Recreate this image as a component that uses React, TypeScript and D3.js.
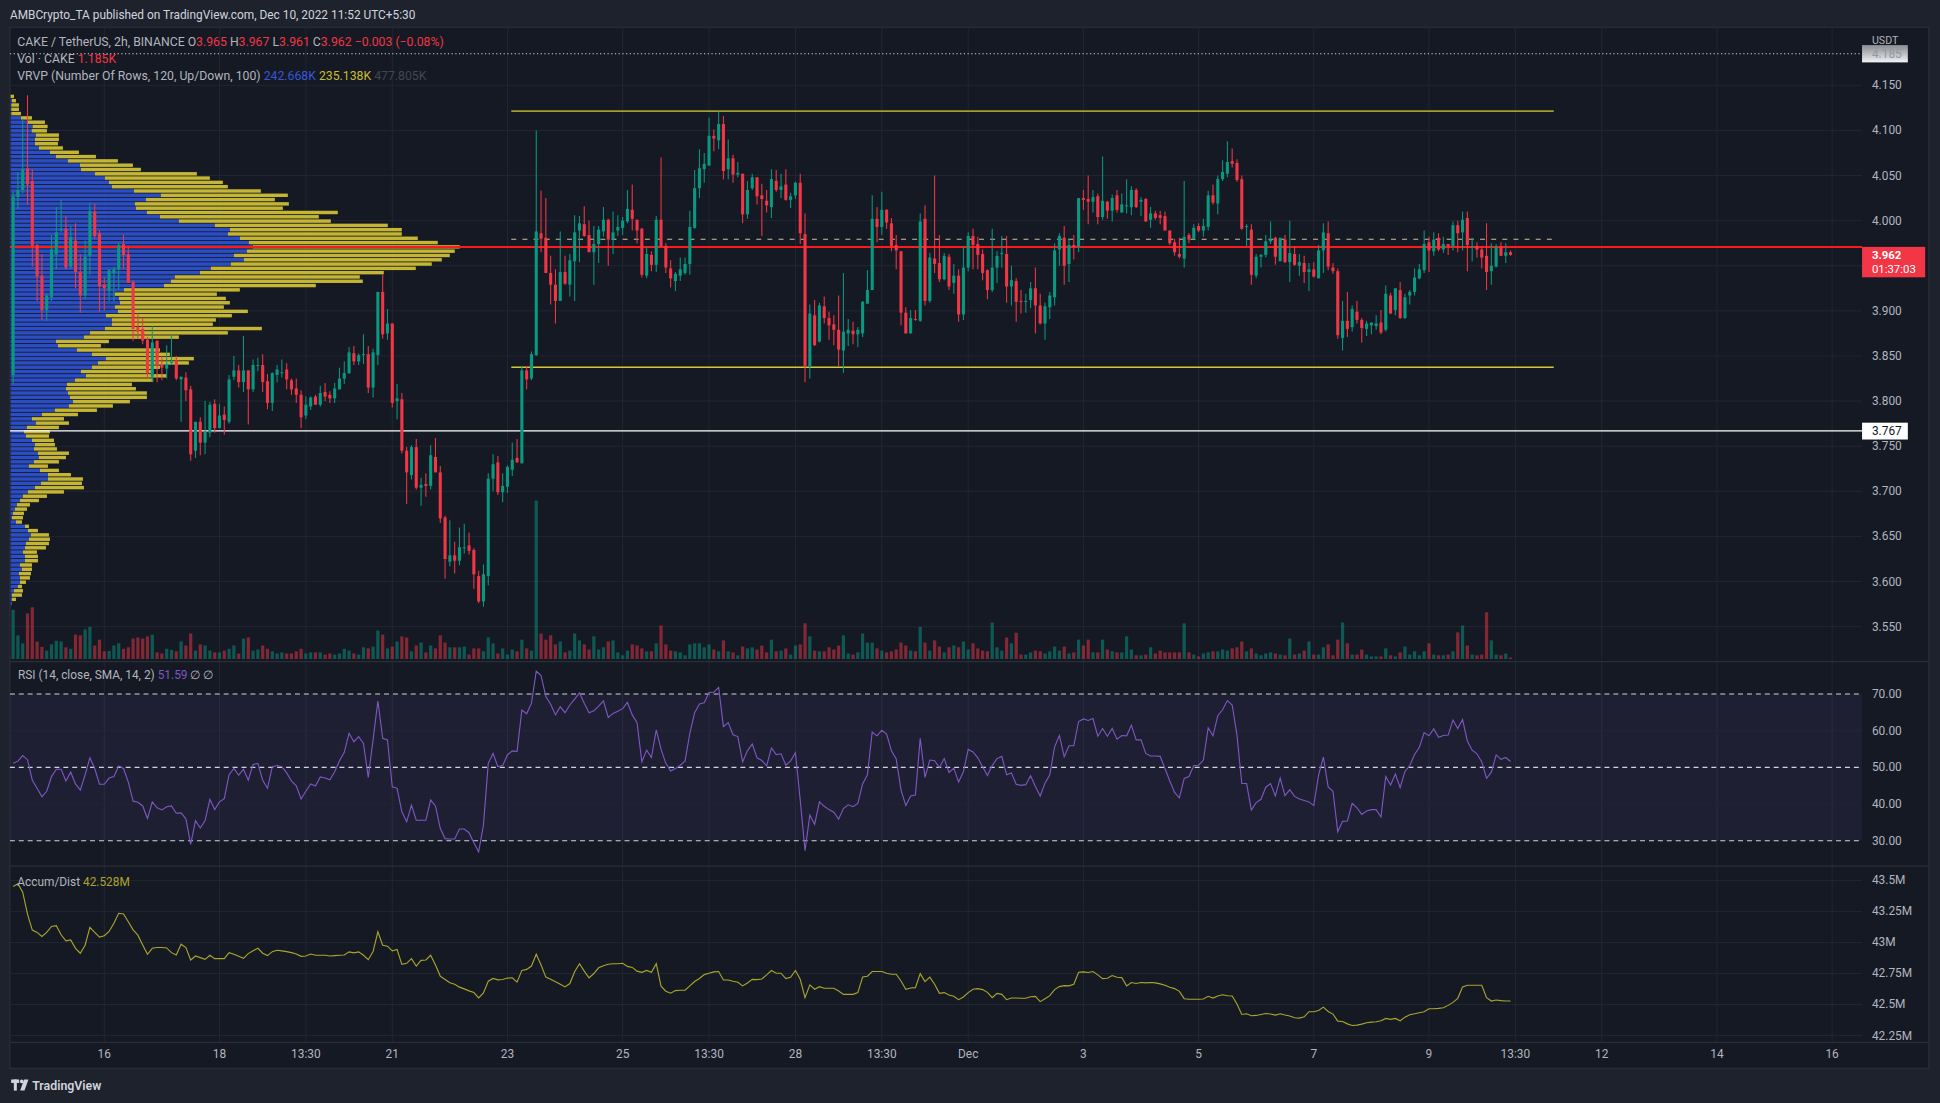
import React from 'react';
import * as d3 from 'd3';

// 2h candles, bar 0 = Nov 16 01:30 (UTC+5:30)
const FIRST_BAR = -19;

const opens = [
  3.829,4.026,4.034,4.058,4.044,3.973,3.939,3.901,3.915,3.963,3.990,3.991,3.949,3.978,3.943,3.917,3.961,4.010,3.986,
  3.929,3.922,3.942,3.946,3.974,3.963,3.932,3.882,3.880,3.868,3.827,3.867,3.840,3.836,3.842,3.845,3.824,3.826,3.813,3.745,3.777,3.754,3.765,3.797,3.770,3.785,3.777,3.827,3.834,3.821,3.834,3.813,3.839,3.840,3.822,3.798,3.829,3.831,3.835,3.823,3.814,3.807,3.784,
  3.794,3.805,3.796,3.810,3.807,3.803,3.813,3.825,3.831,3.853,3.844,3.851,3.852,3.815,3.851,3.921,3.875,3.886,3.800,3.802,3.745,3.718,3.749,3.704,3.708,3.706,3.738,3.721,3.671,3.622,3.629,3.623,3.637,3.640,3.635,3.606,3.578,3.606,3.714,3.732,3.699,3.705,3.724,3.737,3.731,3.834,3.825,3.851,3.986,3.981,3.942,3.929,3.911,3.943,3.929,3.955,3.989,3.996,3.984,3.965,3.974,3.988,4.001,3.979,
  3.989,3.992,3.999,4.012,4.001,3.991,3.939,3.962,3.951,4.001,3.972,3.947,3.933,3.939,3.942,3.952,3.992,4.036,4.057,4.061,4.094,4.089,4.107,4.057,4.069,4.051,4.052,4.007,4.036,4.048,4.028,4.022,4.015,4.044,4.034,4.040,4.023,4.028,4.042,3.985,3.838,3.895,3.866,3.905,3.892,3.885,3.879,3.856,3.875,3.878,3.874,3.875,3.908,3.923,4.002,3.993,4.012,3.997,3.973,3.966,3.898,3.875,3.891,
  3.889,4.002,3.911,3.958,3.953,3.935,3.960,3.931,3.939,3.896,3.948,3.983,3.974,3.963,3.945,3.923,3.948,3.963,3.963,3.927,3.933,3.911,3.910,3.912,3.925,3.906,3.886,3.904,3.915,3.968,3.981,3.952,3.973,3.971,4.025,4.024,4.021,4.027,4.004,4.021,4.011,4.028,4.009,4.016,4.015,4.034,4.021,4.024,4.001,4.008,4.006,4.005,3.989,3.976,3.963,3.958,3.984,3.980,3.994,3.989,3.993,4.028,4.019,4.046,
  4.052,4.066,4.064,4.046,3.993,3.990,3.939,3.960,3.962,3.977,3.981,3.955,3.979,3.954,3.963,3.950,3.953,3.943,3.946,3.936,3.967,3.986,3.948,3.944,3.870,3.889,3.882,3.899,3.890,3.880,3.884,3.883,3.887,3.879,3.917,3.901,3.923,3.892,3.917,3.921,3.936,3.945,3.976,3.966,3.981,3.968,3.974,3.972,3.995,3.987,4.003,3.971,3.972,3.968,3.961,3.944,3.949,3.971,3.961,3.965,
];
const highs = [
  4.032,4.054,4.113,4.139,4.057,3.974,3.963,3.919,3.984,4.015,4.023,4.005,3.994,3.997,3.963,3.978,4.020,4.019,3.989,
  3.937,3.946,3.949,3.976,3.984,3.972,3.934,3.898,3.892,3.871,3.883,3.867,3.850,3.862,3.874,3.850,3.827,3.832,3.817,3.777,3.782,3.800,3.799,3.802,3.797,3.794,3.829,3.850,3.840,3.872,3.834,3.846,3.848,3.852,3.830,3.832,3.840,3.846,3.842,3.825,3.825,3.812,3.805,
  3.805,3.807,3.817,3.820,3.811,3.820,3.837,3.844,3.860,3.861,3.853,3.874,3.861,3.858,3.921,3.940,3.902,3.886,3.819,3.809,3.749,3.751,3.758,3.715,3.720,3.751,3.759,3.728,3.673,3.668,3.644,3.660,3.664,3.654,3.637,3.612,3.619,3.720,3.741,3.739,3.720,3.729,3.754,3.758,3.839,3.839,3.855,4.100,4.033,4.025,3.961,3.946,3.988,3.961,3.963,4.006,4.005,4.016,4.000,3.994,3.994,4.015,4.002,4.010,
  4.006,4.004,4.034,4.040,4.001,3.992,3.971,3.966,4.005,4.070,3.975,3.956,3.943,3.959,3.959,4.011,4.056,4.079,4.075,4.114,4.101,4.121,4.116,4.090,4.073,4.065,4.052,4.044,4.052,4.048,4.041,4.034,4.057,4.056,4.052,4.057,4.031,4.043,4.052,4.008,3.907,3.912,3.909,3.916,3.899,3.895,3.917,3.942,3.891,3.888,3.882,3.911,3.945,4.028,4.015,4.032,4.013,4.003,3.984,3.966,3.904,3.901,3.901,
  4.008,4.017,3.964,4.050,3.984,3.964,3.963,3.952,3.946,3.971,3.987,3.991,3.982,3.968,3.946,3.991,3.966,3.983,3.983,3.950,3.936,3.923,3.919,3.932,3.948,3.919,3.909,3.921,3.975,3.986,3.994,3.980,3.984,4.025,4.034,4.050,4.034,4.030,4.071,4.022,4.029,4.034,4.030,4.046,4.038,4.036,4.026,4.025,4.015,4.011,4.011,4.010,3.989,3.980,3.981,4.044,3.986,3.996,3.997,4.002,4.033,4.040,4.050,4.067,
  4.088,4.080,4.068,4.050,3.996,3.996,3.963,3.963,3.984,3.999,3.982,3.981,3.984,4.000,3.972,3.963,3.961,3.953,3.954,3.973,3.997,3.999,3.953,3.947,3.911,3.921,3.906,3.911,3.892,3.889,3.887,3.895,3.901,3.928,3.920,3.925,3.932,3.919,3.923,3.947,3.952,3.989,3.982,3.987,3.986,3.982,3.974,3.999,4.000,4.010,4.010,3.981,3.976,3.972,3.997,3.975,3.974,3.976,3.975,3.967,
];
const lows = [
  3.819,4.013,4.030,4.018,3.949,3.911,3.890,3.889,3.911,3.946,3.987,3.946,3.946,3.925,3.898,3.913,3.940,3.980,3.899,
  3.901,3.911,3.911,3.923,3.946,3.931,3.867,3.870,3.863,3.825,3.821,3.821,3.823,3.825,3.840,3.823,3.777,3.800,3.734,3.737,3.740,3.741,3.760,3.765,3.770,3.763,3.775,3.823,3.815,3.810,3.774,3.810,3.833,3.810,3.791,3.789,3.821,3.826,3.813,3.807,3.798,3.770,3.780,
  3.790,3.796,3.794,3.800,3.798,3.798,3.813,3.819,3.830,3.840,3.840,3.841,3.809,3.804,3.840,3.869,3.868,3.793,3.780,3.742,3.686,3.713,3.702,3.684,3.694,3.702,3.721,3.665,3.603,3.617,3.609,3.618,3.631,3.630,3.592,3.576,3.572,3.596,3.700,3.696,3.688,3.698,3.717,3.732,3.731,3.813,3.823,3.850,3.965,3.942,3.907,3.886,3.911,3.929,3.916,3.911,3.954,3.982,3.965,3.929,3.953,3.982,3.950,3.963,
  3.983,3.984,3.997,3.989,3.975,3.937,3.936,3.944,3.943,3.971,3.942,3.926,3.922,3.933,3.940,3.940,3.991,4.025,4.042,4.061,4.077,4.079,4.046,4.046,4.042,4.048,3.997,4.002,4.034,4.018,3.983,4.009,4.003,4.032,4.025,4.022,4.014,4.024,3.974,3.821,3.825,3.861,3.865,3.886,3.868,3.862,3.839,3.831,3.861,3.863,3.860,3.871,3.908,3.923,3.976,3.984,3.991,3.966,3.946,3.884,3.875,3.875,3.889,
  3.888,3.906,3.909,3.942,3.932,3.934,3.923,3.919,3.888,3.890,3.944,3.946,3.946,3.934,3.913,3.921,3.931,3.948,3.909,3.906,3.888,3.897,3.898,3.903,3.875,3.885,3.868,3.891,3.906,3.950,3.929,3.932,3.957,3.965,4.012,3.996,4.009,3.996,4.001,4.002,3.999,4.009,4.009,4.008,4.006,4.014,4.005,3.999,3.992,4.001,3.996,3.989,3.973,3.961,3.958,3.948,3.975,3.979,3.987,3.982,3.989,4.018,4.007,4.044,
  4.048,4.059,4.043,3.990,3.972,3.929,3.936,3.948,3.959,3.974,3.951,3.955,3.953,3.932,3.950,3.939,3.931,3.922,3.937,3.936,3.942,3.945,3.941,3.869,3.856,3.871,3.877,3.886,3.865,3.872,3.874,3.879,3.874,3.877,3.897,3.895,3.891,3.891,3.907,3.917,3.935,3.942,3.943,3.961,3.966,3.964,3.962,3.967,3.965,3.967,3.944,3.955,3.959,3.947,3.923,3.929,3.948,3.961,3.953,3.961,
];
const closes = [
  4.027,4.034,4.057,4.040,3.972,3.938,3.901,3.917,3.968,3.987,3.991,3.948,3.982,3.943,3.917,3.960,4.011,3.983,3.927,
  3.925,3.945,3.946,3.973,3.962,3.931,3.880,3.877,3.867,3.831,3.865,3.840,3.837,3.841,3.844,3.825,3.827,3.812,3.741,3.777,3.754,3.766,3.796,3.770,3.784,3.779,3.824,3.834,3.821,3.834,3.813,3.840,3.840,3.821,3.798,3.831,3.835,3.832,3.824,3.813,3.807,3.782,3.796,
  3.804,3.796,3.809,3.805,3.803,3.814,3.825,3.831,3.854,3.844,3.851,3.852,3.815,3.854,3.921,3.874,3.886,3.798,3.803,3.745,3.721,3.749,3.704,3.707,3.706,3.740,3.721,3.670,3.625,3.629,3.623,3.638,3.638,3.634,3.608,3.578,3.608,3.714,3.730,3.699,3.706,3.727,3.735,3.732,3.834,3.824,3.852,3.988,3.980,3.942,3.929,3.911,3.943,3.930,3.956,3.987,3.997,3.983,3.965,3.974,3.990,4.001,3.979,3.987,
  3.993,4.000,4.013,4.002,3.989,3.940,3.963,3.951,4.001,3.971,3.948,3.936,3.941,3.946,3.952,3.993,4.036,4.058,4.063,4.094,4.091,4.107,4.055,4.069,4.051,4.053,4.007,4.034,4.048,4.027,4.024,4.017,4.046,4.034,4.038,4.023,4.027,4.042,3.986,3.839,3.897,3.862,3.906,3.892,3.884,3.879,3.857,3.877,3.879,3.874,3.879,3.910,3.923,4.002,3.993,4.012,3.998,3.972,3.967,3.898,3.875,3.892,3.890,
  3.999,3.911,3.959,3.952,3.935,3.961,3.927,3.939,3.896,3.948,3.983,3.973,3.962,3.942,3.923,3.948,3.961,3.964,3.927,3.934,3.910,3.910,3.911,3.925,3.906,3.886,3.905,3.917,3.967,3.983,3.950,3.973,3.971,4.025,4.023,4.021,4.026,4.004,4.022,4.011,4.025,4.012,4.018,4.017,4.034,4.015,4.023,3.999,4.008,4.003,4.003,3.989,3.975,3.965,3.960,3.982,3.979,3.992,3.989,3.994,4.028,4.020,4.046,4.054,
  4.065,4.063,4.045,3.991,3.994,3.940,3.960,3.962,3.977,3.979,3.960,3.981,3.954,3.964,3.951,3.954,3.943,3.946,3.938,3.967,3.987,3.949,3.944,3.873,3.889,3.880,3.902,3.890,3.881,3.886,3.887,3.886,3.876,3.919,3.897,3.925,3.892,3.915,3.921,3.937,3.946,3.974,3.967,3.979,3.968,3.974,3.972,3.995,3.986,4.001,3.973,3.971,3.968,3.959,3.943,3.950,3.971,3.961,3.965,3.962,
];
const volumes = [
  135,65,43,125,142,48,33,23,40,50,48,32,28,67,65,81,88,37,53,
  21,22,37,43,28,32,56,59,56,62,67,18,15,28,25,21,48,37,70,23,40,37,23,18,18,23,28,37,15,56,59,23,26,37,28,21,15,18,15,15,21,28,15,
  18,18,18,12,15,12,15,28,23,15,12,32,29,34,78,67,29,34,48,62,59,21,37,45,18,37,29,65,45,32,32,32,34,12,29,29,21,59,43,15,29,12,26,21,53,29,23,435,70,53,65,40,48,18,23,70,51,40,26,62,26,32,48,51,
  18,10,23,40,37,29,21,21,43,92,40,23,21,18,10,40,43,43,32,40,26,21,51,21,18,10,34,29,32,26,37,18,53,21,23,29,12,37,40,98,62,23,21,21,32,26,37,65,15,12,18,70,45,45,29,23,18,21,26,45,37,23,21,
  88,45,23,51,34,18,32,37,32,48,26,43,29,23,21,100,32,23,59,43,72,12,12,18,23,21,15,21,34,23,34,15,18,53,37,53,18,18,53,26,21,18,18,62,26,10,10,12,32,15,23,18,18,18,18,98,18,12,7,15,18,21,21,26,
  23,29,32,48,21,29,15,10,15,18,15,12,10,56,12,15,23,48,12,12,32,40,10,53,100,43,12,12,26,12,7,7,7,29,10,7,18,34,12,21,10,21,43,12,10,10,12,21,73,92,37,12,10,12,128,51,12,10,15,4,
];
const rsiValues = [
  51.1,51.7,53.2,52.1,46.5,44.3,42.0,43.5,47.5,49.5,49.5,46.3,48.7,45.5,43.8,48.0,52.6,49.7,45.4,
  45.4,47.1,47.5,50.4,49.7,46.0,40.8,40.5,39.5,36.1,40.6,39.0,38.4,39.3,39.5,37.5,37.6,36.0,29.0,35.5,33.5,35.5,41.3,38.5,40.6,41.5,48.0,49.7,47.9,49.5,46.5,50.8,51.1,46.5,44.3,50.2,50.5,50.2,48.5,46.3,45.0,41.4,43.5,
  45.5,44.9,47.4,47.1,46.6,48.8,51.8,54.1,59.3,57.0,58.4,56.5,47.3,57.5,68.1,57.9,57.5,44.7,44.3,37.9,35.2,39.7,35.6,35.6,35.6,41.1,39.5,33.4,30.6,30.5,30.5,33.2,33.2,32.2,29.5,27.0,34.3,51.1,53.8,50.2,50.5,53.4,54.5,54.3,65.6,64.6,67.5,76.2,75.0,69.3,67.2,64.3,66.5,64.9,67.0,68.6,70.3,67.5,64.9,65.4,66.7,68.1,63.6,64.7,
  65.3,66.0,67.7,64.3,62.2,51.5,54.7,52.7,60.2,54.9,51.1,49.0,49.7,50.6,51.7,59.3,64.9,67.3,
  67.6,70.4,70.5,71.8,61.1,62.2,58.9,58.4,51.5,54.5,56.4,52.6,51.9,50.4,55.3,53.5,53.7,50.6,51.8,54.0,41.1,27.3,37.0,34.5,40.6,39.4,38.5,37.8,35.9,38.8,39.8,39.3,40.2,45.5,48.0,59.6,58.6,60.1,59.1,54.5,52.3,43.8,39.6,42.2,42.5,
  57.9,47.3,52.0,51.8,50.0,52.4,48.6,49.8,46.0,48.8,54.9,54.2,52.6,50.2,47.8,50.5,52.4,53.0,48.0,48.5,45.4,45.1,45.3,47.7,44.8,42.2,45.7,48.0,55.6,58.7,52.9,55.9,55.9,62.5,63.2,62.8,63.3,58.5,60.6,58.5,60.6,57.7,58.7,58.6,61.5,57.5,57.5,53.8,53.1,53.1,53.0,49.7,46.3,43.2,41.7,47.0,47.5,50.5,50.6,52.0,60.8,58.6,64.1,65.7,
  68.2,67.0,58.8,45.6,45.6,38.4,40.4,41.3,44.6,45.6,42.2,47.1,42.3,43.9,42.1,41.4,41.0,40.6,39.6,47.9,52.8,44.7,43.5,32.5,35.3,35.4,40.2,39.0,37.2,38.1,38.5,38.5,36.5,47.5,45.2,48.2,44.5,48.9,50.5,53.5,55.5,59.5,58.6,60.5,58.2,58.7,58.8,62.9,60.6,63.0,57.2,54.7,53.7,51.5,47.0,48.7,53.4,52.2,52.7,51.6,
];
// Accumulation / Distribution, millions
const adValues = [
  43.451,43.473,43.405,43.229,43.100,43.081,43.048,43.081,43.129,43.135,43.062,43.013,43.021,42.953,42.913,42.978,43.121,43.081,43.043,
  43.054,43.089,43.154,43.235,43.229,43.167,43.102,43.059,42.980,42.905,42.953,42.959,42.959,42.956,42.918,42.899,42.986,42.959,42.859,42.891,42.878,42.864,42.897,42.870,42.870,42.870,42.918,42.905,42.888,42.872,42.910,42.934,42.953,42.913,42.894,42.926,42.937,42.932,42.926,42.918,42.907,42.888,42.891,
  42.907,42.897,42.897,42.897,42.891,42.894,42.897,42.899,42.924,42.916,42.924,42.897,42.861,42.926,43.086,42.978,42.970,42.932,42.943,42.824,42.832,42.870,42.810,42.856,42.859,42.897,42.818,42.729,42.702,42.675,42.664,42.640,42.626,42.610,42.596,42.553,42.593,42.688,42.710,42.699,42.702,42.713,42.715,42.680,42.775,42.783,42.810,42.905,42.818,42.721,42.704,42.683,42.664,42.642,42.669,42.764,42.829,42.769,42.715,42.750,42.796,42.813,42.824,42.829,
  42.829,42.832,42.807,42.799,42.769,42.759,42.775,42.759,42.829,42.648,42.607,42.591,42.612,42.615,42.615,42.650,42.685,42.710,
  42.741,42.752,42.763,42.766,42.698,42.698,42.687,42.679,42.650,42.674,42.703,42.701,42.706,42.739,42.774,42.752,42.752,42.709,42.720,42.774,42.703,42.555,42.658,42.623,42.644,42.631,42.631,42.631,42.609,42.582,42.582,42.582,42.596,42.722,42.728,42.766,42.766,42.766,42.752,42.744,42.744,42.690,42.623,42.633,42.636,
  42.749,42.685,42.720,42.663,42.590,42.596,42.577,42.566,42.539,42.561,42.596,42.623,42.628,42.620,42.598,42.555,42.590,42.582,42.539,42.552,42.552,42.550,42.550,42.563,42.566,42.523,42.547,42.571,42.620,42.644,42.652,42.650,42.663,42.760,42.763,42.758,42.766,42.739,42.709,42.712,42.733,42.720,42.717,42.650,42.677,42.669,42.677,42.674,42.677,42.674,42.666,42.655,42.639,42.628,42.606,42.547,42.542,42.542,42.542,42.544,42.566,42.552,42.569,42.579,
  42.571,42.569,42.504,42.420,42.425,42.409,42.412,42.420,42.428,42.423,42.415,42.425,42.415,42.407,42.393,42.390,42.401,42.442,42.442,42.452,42.479,42.444,42.423,42.366,42.363,42.344,42.331,42.334,42.342,42.353,42.358,42.361,42.369,42.388,42.380,42.388,42.369,42.398,42.417,42.425,42.434,42.442,42.466,42.466,42.469,42.474,42.493,42.517,42.550,42.641,42.655,42.655,42.655,42.655,42.555,42.528,42.536,42.531,42.528,42.528,
];

// Visible range volume profile, rows from top (high) to bottom (low)
const vpHigh = 4.140;
const vpLow = 3.573;
const vpUp = [
  0,4,2,2,2,31,51,66,63,76,73,73,85,118,136,172,208,211,253,283,295,304,370,451,406,373,376,409,448,505,
  613,658,652,688,715,727,709,670,700,661,601,568,493,481,460,340,313,325,328,313,322,286,304,304,283,238,220,136,142,199,
  244,286,262,244,211,226,193,169,166,172,178,187,175,133,94,64,76,49,40,46,64,73,70,82,85,70,55,88,112,112,
  91,73,52,37,28,19,13,7,4,16,43,52,61,55,46,43,37,43,43,28,34,25,28,28,22,10,4,4,4,
];
const vpDown = [
  10,12,23,23,29,33,52,45,46,69,72,69,72,87,120,150,159,180,306,315,342,348,381,381,387,462,441,573,477,456,
  519,516,522,534,567,621,624,648,594,603,615,552,555,576,456,348,306,321,330,327,390,378,312,303,471,414,285,159,129,249,
  234,264,273,204,217,242,235,195,210,237,231,171,132,126,108,96,99,96,78,69,66,60,69,93,81,75,57,57,69,105,
  123,147,108,72,57,39,36,33,33,18,12,30,54,63,69,63,42,39,39,36,30,36,30,18,12,27,30,12,0,
];

const priceTicks = [3.55,3.6,3.65,3.7,3.75,3.8,3.85,3.9,3.95,4.0,4.05,4.1,4.15];
const rsiTicks = [30,40,50,60,70];
const rsiDashed = [30,50,70];
const adTicks = [42.25,42.5,42.75,43,43.25,43.5];
const adTickLabels = ['42.25M','42.5M','42.75M','43M','43.25M','43.5M'];
const timeTicks: [number, string][] = [
  [0,'16'],[24,'18'],[42,'13:30'],[60,'21'],[84,'23'],[108,'25'],[126,'13:30'],[144,'28'],[162,'13:30'],
  [180,'Dec'],[204,'3'],[228,'5'],[252,'7'],[276,'9'],[294,'13:30'],[312,'12'],[336,'14'],[360,'16'],
];

// drawn levels
const rangeHigh = 4.1214;
const rangeLow = 3.8375;
const rangeMid = 3.9794;
const rangeFromBar = 84.8;
const rangeToBar = 302;
const keyLevel = 3.767;
const visibleHigh = 4.185;
const lastPrice = 3.962;

const C = {
  outer: '#1e222d',
  bg: '#151924',
  grid: '#222632',
  border: '#2a2e39',
  text: '#b2b5be',
  up: '#089981',
  down: '#f23645',
  upVol: 'rgba(8,153,129,0.5)',
  downVol: 'rgba(242,54,69,0.5)',
  vpUp: '#2c4ec4',
  vpDown: '#c4b534',
  rsi: '#7e57c2',
  ad: '#aba52a',
};

const FONT = 'Roboto, "Noto Sans", sans-serif';
const L = 8, R = 1505, AX = 1559;
const TOP = 22, MAIN_B = 534.5, RSI_B = 699.6, AD_B = 842, BOTTOM = 863;

export default function App() {
  const n = Math.min(opens.length, highs.length, lows.length, closes.length);
  const x = d3.scaleLinear().domain([0, 360]).range([84.3, 1480.8]);
  const yP = d3.scaleLinear().domain([3.55, 4.15]).range([506.2, 68.9]);
  const yR = d3.scaleLinear().domain([30, 70]).range([679.2, 560.6]);
  const yA = d3.scaleLinear().domain([42.25, 43.5]).range([836.5, 711.2]);
  const volH = d3.scaleLinear().domain([0, d3.max(volumes) as number]).range([0, 127.9]);
  const totals = vpUp.map((u, i) => u + vpDown[i]);
  const vpW = d3.scaleLinear().domain([0, d3.max(totals) as number]).range([0, 363]);
  const rowH = (yP(vpLow) - yP(vpHigh)) / vpUp.length;
  const poc = d3.maxIndex(totals);
  const pocPrice = vpHigh - (poc + 0.5) * (vpHigh - vpLow) / vpUp.length;
  const bar = (i: number) => x(FIRST_BAR + i);
  const volBase = 532.3;

  const rsiLine = d3.line<number>().x((_, i) => bar(i)).y(d => yR(d));
  const adLine = d3.line<number>().x((_, i) => bar(i)).y(d => yA(d));

  // price label box of the last price hides the axis ticks under it
  const lastTop = yP(lastPrice) - 6.5;
  const lastBottom = lastTop + 24.6;
  const shownPriceTicks = priceTicks.filter(p => yP(p) < lastTop - 4 || yP(p) > lastBottom + 4);

  const tx = { fontFamily: FONT, fontSize: 9.6 } as const;

  return (
    <svg width={1940} height={1103} viewBox="0 0 1568 891" preserveAspectRatio="none"
      style={{ position: 'absolute', left: 0, top: 0, display: 'block' }}>
      <defs>
        <clipPath id="mainClip"><rect x={L} y={TOP} width={R - L} height={MAIN_B - TOP} /></clipPath>
        <clipPath id="rsiClip"><rect x={L} y={MAIN_B} width={R - L} height={RSI_B - MAIN_B} /></clipPath>
        <clipPath id="adClip"><rect x={L} y={RSI_B} width={R - L} height={AD_B - RSI_B} /></clipPath>
        <linearGradient id="hiLbl" x1="0" x2="0" y1="0" y2="1">
          <stop offset="0" stopColor="#e8e9ec" stopOpacity={0.55} />
          <stop offset="1" stopColor="#ffffff" stopOpacity={0.95} />
        </linearGradient>
      </defs>
      <rect x={0} y={0} width={1568} height={891} fill={C.outer} />
      <rect x={L} y={TOP} width={AX - L} height={BOTTOM - TOP} fill={C.bg} stroke={C.border} strokeWidth={1} />

      <text x={8} y={12} {...tx} fill="#d1d4dc" dominantBaseline="central">
        AMBCrypto_TA published on TradingView.com, Dec 10, 2022 11:52 UTC+5:30
      </text>

      {/* grid */}
      {timeTicks.map(([b]) => (
        <line key={'vg' + b} x1={x(b)} x2={x(b)} y1={TOP} y2={AD_B} stroke={C.grid} strokeWidth={0.8} />
      ))}
      {priceTicks.map(p => (
        <line key={'pg' + p} x1={L} x2={R} y1={yP(p)} y2={yP(p)} stroke={C.grid} strokeWidth={0.8} />
      ))}
      <rect x={L} y={yR(70)} width={R - L} height={yR(30) - yR(70)} fill="rgba(126,87,194,0.1)" />
      {[40, 60].map(v => (
        <line key={'rg' + v} x1={L} x2={R} y1={yR(v)} y2={yR(v)} stroke={C.grid} strokeWidth={0.8} />
      ))}
      {adTicks.map(v => (
        <line key={'ag' + v} x1={L} x2={R} y1={yA(v)} y2={yA(v)} stroke={C.grid} strokeWidth={0.8} />
      ))}

      <g clipPath="url(#mainClip)">
        {/* volume profile */}
        {vpUp.map((u, i) => {
          const y0 = yP(vpHigh) + i * rowH;
          return (
            <g key={'vp' + i}>
              <rect x={8.6} y={y0 + 0.3} width={vpW(u)} height={rowH - 0.7} fill={C.vpUp} />
              <rect x={8.6 + vpW(u)} y={y0 + 0.3} width={vpW(vpDown[i])} height={rowH - 0.7} fill={C.vpDown} />
            </g>
          );
        })}
        {/* volume */}
        {volumes.slice(0, n).map((v, i) => (
          <rect key={'v' + i} x={bar(i) - 1.3} y={volBase - volH(v)} width={2.6} height={volH(v)}
            fill={closes[i] >= opens[i] ? C.upVol : C.downVol} />
        ))}
        {/* levels */}
        <line x1={L} x2={R} y1={yP(visibleHigh)} y2={yP(visibleHigh)} stroke="#d1d4dc" strokeWidth={0.9} strokeDasharray="1,2" />
        <line x1={L} x2={R} y1={yP(keyLevel)} y2={yP(keyLevel)} stroke="#ffffff" strokeWidth={1.1} />
        <line x1={x(rangeFromBar)} x2={x(rangeToBar)} y1={yP(rangeHigh)} y2={yP(rangeHigh)} stroke="#a39d2e" strokeWidth={1.5} />
        <line x1={x(rangeFromBar)} x2={x(rangeToBar)} y1={yP(rangeLow)} y2={yP(rangeLow)} stroke="#d6c935" strokeWidth={1.1} />
        <line x1={x(rangeFromBar)} x2={x(rangeToBar)} y1={yP(rangeMid)} y2={yP(rangeMid)} stroke="#c9c49c" strokeWidth={0.9} strokeDasharray="4,5" />
        <line x1={L} x2={R} y1={yP(pocPrice)} y2={yP(pocPrice)} stroke="#ff1a1a" strokeWidth={1.7} />
        {/* candles */}
        {opens.slice(0, n).map((o, i) => {
          const c = closes[i];
          const col = c >= o ? C.up : C.down;
          const xc = bar(i);
          const top = yP(Math.max(o, c));
          const h = Math.max(0.8, Math.abs(yP(o) - yP(c)));
          return (
            <g key={'c' + i}>
              <line x1={xc} x2={xc} y1={yP(highs[i])} y2={yP(lows[i])} stroke={col} strokeWidth={0.85} />
              <rect x={xc - 1.25} y={top} width={2.5} height={h} fill={col} />
            </g>
          );
        })}
      </g>

      {/* RSI */}
      <g clipPath="url(#rsiClip)">
        {rsiDashed.map(v => (
          <line key={'rd' + v} x1={L} x2={R} y1={yR(v)} y2={yR(v)} stroke="#d1d4dc" strokeWidth={0.9} strokeDasharray="4,3.2" />
        ))}
        <path d={rsiLine(rsiValues) || ''} fill="none" stroke={C.rsi} strokeWidth={0.9} />
      </g>

      {/* Accum/Dist */}
      <g clipPath="url(#adClip)">
        <path d={adLine(adValues) || ''} fill="none" stroke={C.ad} strokeWidth={0.9} />
      </g>

      {/* pane separators */}
      <line x1={L} x2={AX} y1={MAIN_B} y2={MAIN_B} stroke={C.border} strokeWidth={1} />
      <line x1={L} x2={AX} y1={RSI_B} y2={RSI_B} stroke={C.border} strokeWidth={1} />
      <line x1={L} x2={AX} y1={AD_B} y2={AD_B} stroke={C.border} strokeWidth={1} />

      {/* legends */}
      <text x={14} y={34} {...tx} fontSize={9.9} dominantBaseline="central">
        <tspan fill={C.text}>CAKE / TetherUS, 2h, BINANCE  O</tspan>
        <tspan fill={C.down}>3.965</tspan>
        <tspan fill={C.text}>  H</tspan><tspan fill={C.down}>3.967</tspan>
        <tspan fill={C.text}>  L</tspan><tspan fill={C.down}>3.961</tspan>
        <tspan fill={C.text}>  C</tspan><tspan fill={C.down}>3.962</tspan>
        <tspan fill={C.down}>  −0.003 (−0.08%)</tspan>
      </text>
      <text x={14} y={48} {...tx} fontSize={9.9} dominantBaseline="central">
        <tspan fill={C.text}>Vol · CAKE  </tspan><tspan fill={C.down}>1.185K</tspan>
      </text>
      <text x={14} y={61.5} {...tx} fontSize={9.9} dominantBaseline="central">
        <tspan fill={C.text}>VRVP (Number Of Rows, 120, Up/Down, 100)  </tspan>
        <tspan fill="#3558d8">242.668K  </tspan>
        <tspan fill="#c9bc2f">235.138K  </tspan>
        <tspan fill="#434651">477.805K</tspan>
      </text>
      <text x={14.5} y={545.5} {...tx} dominantBaseline="central">
        <tspan fill={C.text}>RSI (14, close, SMA, 14, 2)  </tspan>
        <tspan fill={C.rsi}>51.59  </tspan>
        <tspan fill={C.text}>∅  ∅</tspan>
      </text>
      <text x={14} y={712.6} {...tx} dominantBaseline="central">
        <tspan fill={C.text}>Accum/Dist  </tspan><tspan fill={C.ad}>42.528M</tspan>
      </text>

      {/* right axis */}
      <text x={1513} y={33} {...tx} fontSize={8.6} fill={C.text} dominantBaseline="central">USDT</text>
      {shownPriceTicks.map(p => (
        <text key={'pt' + p} x={1513} y={yP(p)} {...tx} fill={C.text} dominantBaseline="central">{p.toFixed(3)}</text>
      ))}
      {rsiTicks.map(v => (
        <text key={'rt' + v} x={1513} y={yR(v)} {...tx} fill={C.text} dominantBaseline="central">{v.toFixed(2)}</text>
      ))}
      {adTicks.map((v, i) => (
        <text key={'at' + v} x={1513} y={yA(v)} {...tx} fill={C.text} dominantBaseline="central">{adTickLabels[i]}</text>
      ))}
      <rect x={1505} y={yP(visibleHigh) - 7} width={37} height={14} fill="url(#hiLbl)" />
      <text x={1513} y={yP(visibleHigh)} {...tx} fill="#9598a1" dominantBaseline="central">{visibleHigh.toFixed(3)}</text>
      <rect x={1505} y={lastTop} width={51} height={lastBottom - lastTop} fill={C.down} />
      <text x={1513} y={yP(lastPrice)} {...tx} fontSize={9.2} fill="#ffffff" fontWeight={700} dominantBaseline="central">{lastPrice.toFixed(3)}</text>
      <text x={1513} y={yP(lastPrice) + 11.6} {...tx} fontSize={9.2} fill="#ffffff" dominantBaseline="central">01:37:03</text>
      <rect x={1505} y={yP(keyLevel) - 6.6} width={37} height={13.6} fill="#ffffff" />
      <text x={1513} y={yP(keyLevel)} {...tx} fill="#131722" dominantBaseline="central">{keyLevel.toFixed(3)}</text>

      {/* time axis */}
      {timeTicks.map(([b, lbl]) => (
        <text key={'tt' + b} x={x(b)} y={851.5} {...tx} fill={C.text} textAnchor="middle" dominantBaseline="central">{lbl}</text>
      ))}

      {/* footer logo */}
      <g transform="translate(9,872)">
        <rect x={0} y={0} width={6.5} height={2.8} fill="#d1d4dc" />
        <rect x={2.2} y={0} width={2.4} height={9} fill="#d1d4dc" />
        <circle cx={8.6} cy={1.6} r={1.5} fill="#d1d4dc" />
        <path d="M10.5 0 L14 0 L10.8 9 L7.3 9 Z" fill="#d1d4dc" />
      </g>
      <text x={26} y={877} {...tx} fontSize={10} fontWeight={600} fill="#d1d4dc" dominantBaseline="central">TradingView</text>
    </svg>
  );
}
